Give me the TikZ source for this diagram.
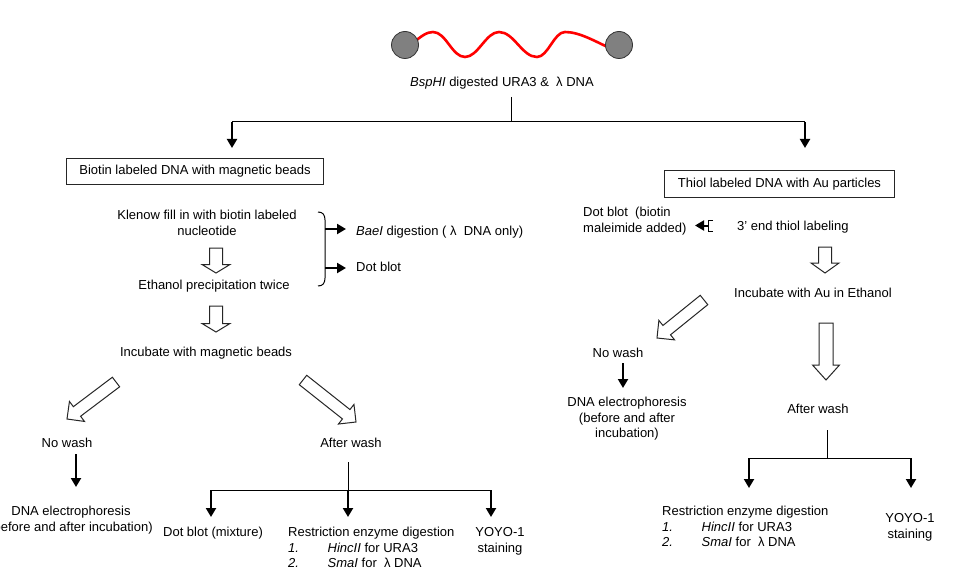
\documentclass[tikz,border=0pt]{standalone}
\usepackage{fontspec}
\setmainfont{Liberation Sans}
\usetikzlibrary{arrows.meta,calc}
\newcommand\ml[1]{\begin{tabular}[t]{@{}c@{}}#1\end{tabular}}
\newcommand\reslist[2]{\begin{tabular}[t]{@{}p{39.5pt}@{}l@{}}\multicolumn{2}{@{}l@{}}{Restriction enzyme digestion}\\ \textit{1.} & \textit{HincII} for URA3\\ \textit{2.} & \textit{SmaI} for \ λ DNA\end{tabular}}
\newcommand\hollowarrow[5]{%
  \coordinate (hb) at ($(#2)!#5!(#1)$);
  \draw[hol] ($(#1)!#3!90:(#2)$) -- ($(hb)!#3!90:(#2)$) -- ($(hb)!#4!90:(#2)$) -- (#2)
    -- ($(hb)!#4!-90:(#2)$) -- ($(hb)!#3!-90:(#2)$) -- ($(#1)!#3!-90:(#2)$) -- cycle;}
\begin{document}
\begin{tikzpicture}[x=1pt,y=-1pt,
  txt/.style={font=\fontsize{13}{15.5}\selectfont, inner sep=0pt, anchor=base},
  ltxt/.style={font=\fontsize{13}{15.5}\selectfont, inner sep=0pt, anchor=base west},
  boxnode/.style={font=\fontsize{13}{15.5}\selectfont, draw=black!85, line width=1pt, minimum height=26pt, inner xsep=13pt, inner ysep=0pt},
  thinline/.style={line width=1pt, black},
  arr/.style={line width=2pt, black, -{Triangle[length=9pt,width=10pt]}},
  hol/.style={draw=black!85, line width=1pt, fill=white, line join=miter},
  bead/.style={circle, fill=black!50, draw=black!80, line width=0.8pt, minimum size=27pt, inner sep=0pt},
]
\useasboundingbox (0,0) rectangle (968,580);
\fill[white] (0,0) rectangle (968,580);

% DNA with beads
\draw[red, line width=2.6pt, line cap=round] (412,44) .. controls (421,36) and (427,32) .. (433,32)
  .. controls (446,32) and (452,57) .. (465,57)
  .. controls (478,57) and (486,32) .. (499,32)
  .. controls (514,32) and (522,57) .. (537,57)
  .. controls (548,57) and (554,32) .. (565,32)
  .. controls (580,32) and (596,42) .. (612,49);
\node[bead] (b1) at (405,45) {};
\node[bead] (b2) at (619,45) {};
\node[txt] (title) at (502,86.7) {\textit{BspHI} digested URA3 \& \ λ DNA};

% top branching
\coordinate (jt) at (511,97);
\coordinate (jm) at (511,122);
\coordinate (jl) at (232,122);
\coordinate (jr) at (805,122);
\coordinate (al) at (232,148);
\coordinate (ar) at (805,148);
\draw[thinline] (jt) -- (jm);
\draw[thinline] (jl) -- (jr);
\draw[arr] (jl) -- (al);
\draw[arr] (jr) -- (ar);

\node[boxnode] (box1) at (195,171.5) {Biotin labeled DNA with magnetic beads};
\node[boxnode] (box2) at (779.5,184) {Thiol labeled DNA with Au particles};

% left column
\node[txt] (klenow) at (207,219.7) {\ml{Klenow fill in with biotin labeled\\nucleotide}};
\node[txt] (ethanol) at (214,289.7) {Ethanol precipitation twice};
\node[txt] (incmag) at (206,356.7) {Incubate with magnetic beads};
\coordinate (h1a) at (216,248); \coordinate (h1b) at (216,273);
\coordinate (h2a) at (216,306); \coordinate (h2b) at (216,332);
\hollowarrow{h1a}{h1b}{6.5pt}{14pt}{8.5pt}
\hollowarrow{h2a}{h2b}{6.5pt}{14pt}{8.5pt}

% brace and side arrows
\coordinate (br1) at (325,229); \coordinate (br2) at (325,268);
\coordinate (be1) at (346,229); \coordinate (be2) at (346,268);
\draw[thinline] (318,212) .. controls (323,212) and (325,215) .. (325,220) -- (325,278)
  .. controls (325,283) and (323,286) .. (318,286);
\draw[arr] (br1) -- (be1);
\draw[arr] (br2) -- (be2);
\node[ltxt] (bael) at (356,235.7) {\textit{BaeI} digestion ( λ\ \ DNA only)};
\node[ltxt] (dotb1) at (356,271.7) {Dot blot};

% split left
\coordinate (d1a) at (116,382); \coordinate (d1b) at (67,419);
\coordinate (d2a) at (303,380); \coordinate (d2b) at (356,422);
\hollowarrow{d1a}{d1b}{6pt}{12.5pt}{12.5pt}
\hollowarrow{d2a}{d2b}{6pt}{12.5pt}{12.5pt}

\node[txt] (nw1) at (67,447.7) {No wash};
\coordinate (n1a) at (76,454); \coordinate (n1b) at (76,487);
\draw[arr] (n1a) -- (n1b);
\node[txt] (el1) at (71,515.7) {\ml{DNA electrophoresis\\(before and after incubation)}};

\node[txt] (aw1) at (351,447.7) {After wash};
\coordinate (w1a) at (348,462); \coordinate (w1b) at (348,490);
\coordinate (w1l) at (211,490); \coordinate (w1r) at (491,490);
\coordinate (w1lt) at (211,517); \coordinate (w1mt) at (348,517); \coordinate (w1rt) at (491,517);
\draw[thinline] (w1a) -- (w1b);
\draw[thinline] (w1l) -- (w1r);
\draw[arr] (w1l) -- (w1lt);
\draw[arr] (w1b) -- (w1mt);
\draw[arr] (w1r) -- (w1rt);
\node[txt] (dbm) at (213,536.7) {Dot blot (mixture)};
\node[ltxt] (res1) at (288,536.7) {\reslist{}{}};
\node[txt] (yo1) at (500,536.7) {\ml{YOYO-1\\staining}};

% right column
\node[ltxt] (dotb2) at (583,216.7) {\begin{tabular}[t]{@{}l@{}}Dot blot \ (biotin\\maleimide added)\end{tabular}};
\coordinate (bk) at (708,225.5); \coordinate (bke) at (695,225.5);
\draw[thinline] (713,220) -- (708,220) -- (708,231) -- (713,231);
\draw[arr] (bk) -- (bke);
\node[ltxt] (thiol) at (737,230.7) {3’ end thiol labeling};
\coordinate (h3a) at (825,247); \coordinate (h3b) at (825,273);
\hollowarrow{h3a}{h3b}{6.5pt}{14pt}{10pt}
\node[txt] (incau) at (813,297.7) {Incubate with Au in Ethanol};
\coordinate (d3a) at (704,300); \coordinate (d3b) at (657,338);
\hollowarrow{d3a}{d3b}{6pt}{12.5pt}{12.5pt}
\coordinate (h4a) at (826,323); \coordinate (h4b) at (826,380);
\hollowarrow{h4a}{h4b}{7pt}{13.5pt}{15pt}

\node[txt] (nw2) at (618,357.7) {No wash};
\coordinate (n2a) at (623,363); \coordinate (n2b) at (623,388);
\draw[arr] (n2a) -- (n2b);
\node[txt] (el2) at (627,406.7) {\ml{DNA electrophoresis\\(before and after\\incubation)}};

\node[txt] (aw2) at (818,413.7) {After wash};
\coordinate (w2a) at (827,430); \coordinate (w2b) at (827,458);
\coordinate (w2l) at (749,458); \coordinate (w2r) at (911,458);
\coordinate (w2lt) at (749,488); \coordinate (w2rt) at (911,488);
\draw[thinline] (w2a) -- (w2b);
\draw[thinline] (w2l) -- (w2r);
\draw[arr] (w2l) -- (w2lt);
\draw[arr] (w2r) -- (w2rt);
\node[ltxt] (res2) at (662,515.7) {\reslist{}{}};
\node[txt] (yo2) at (910,522.7) {\ml{YOYO-1\\staining}};
\end{tikzpicture}
\end{document}
